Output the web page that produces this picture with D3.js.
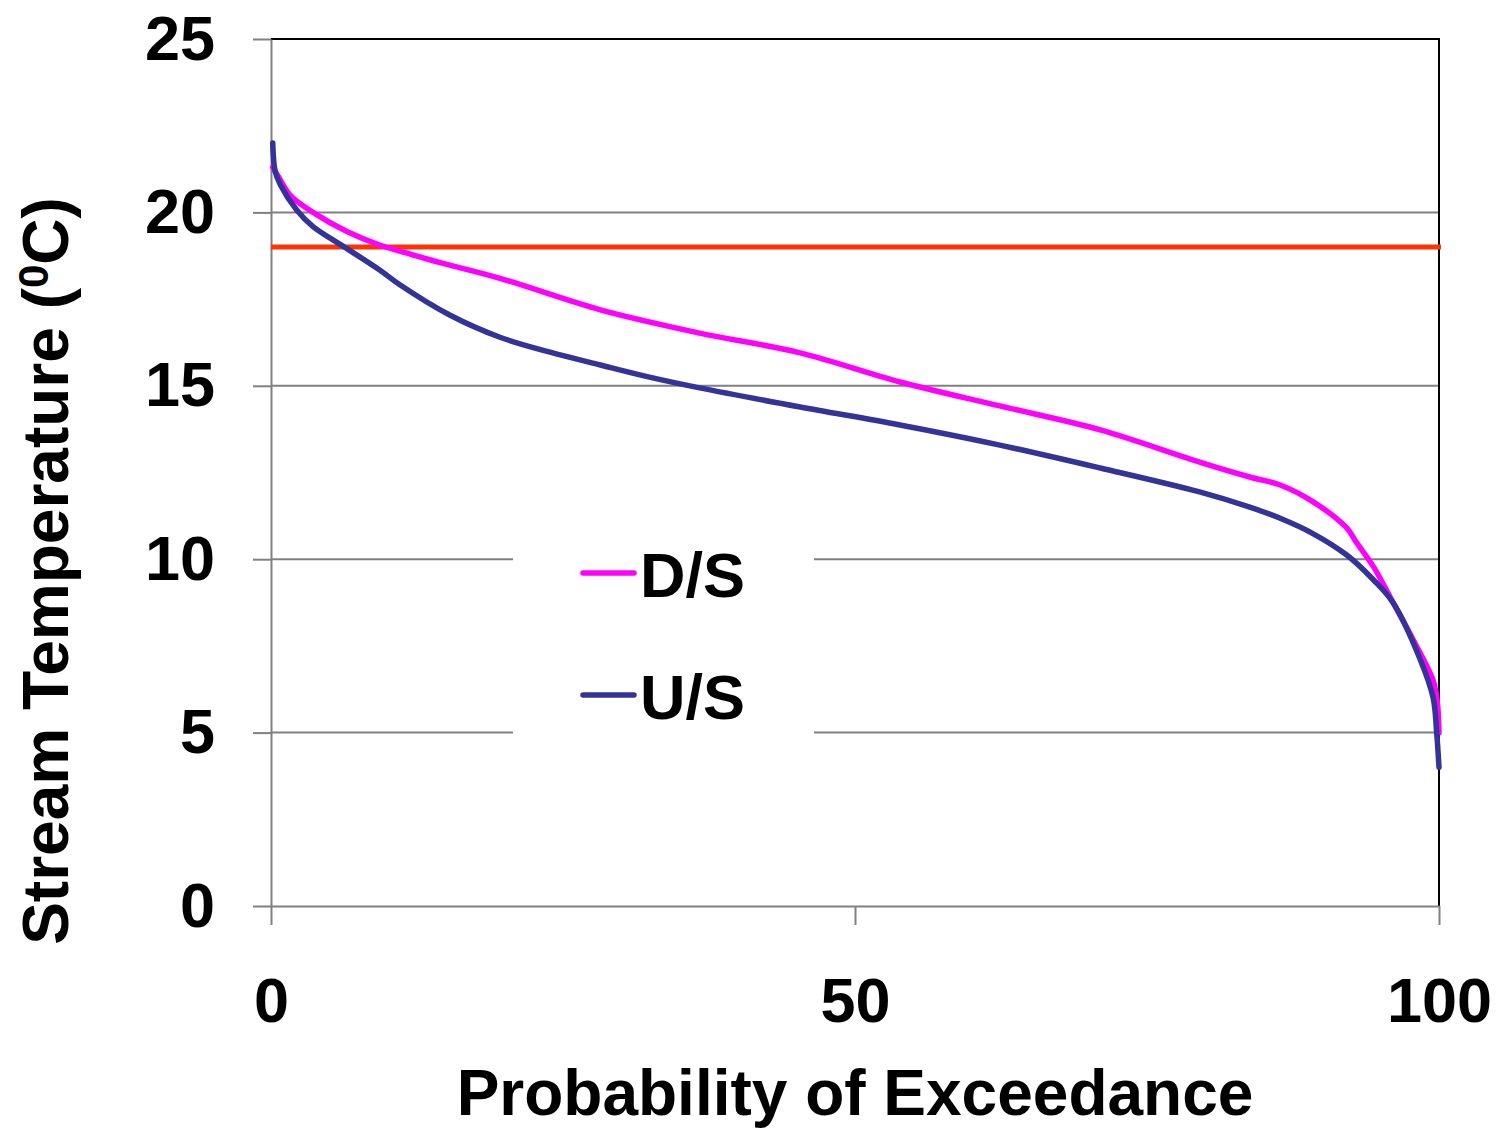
<!DOCTYPE html>
<html>
<head>
<meta charset="utf-8">
<script src="https://cdn.jsdelivr.net/npm/d3@7"></script>
<style>
  html, body { margin: 0; padding: 0; background: #fff; }
  svg { display: block; }
  text { font-family: "Liberation Sans", Arial, sans-serif; font-weight: bold; fill: #000; }
</style>
</head>
<body>
<script>
// ---- data ----
const dsProb = [0.15, 0.6, 1.63, 3.6, 6.5, 9.3, 12.2, 14.5, 19.6, 28.2, 36.7, 45.3, 53.85, 62.4, 71.0, 79.5, 83.8, 86.4, 89.2, 92.1, 92.9, 94.4, 96.1, 97.8, 99.5, 99.85, 100];
const dsTemp = [21.3, 21.05, 20.5, 20.0, 19.45, 19.06, 18.77, 18.55, 18.1, 17.19, 16.52, 15.95, 15.11, 14.42, 13.73, 12.8, 12.37, 12.14, 11.66, 10.9, 10.5, 9.78, 8.73, 7.67, 6.5, 5.9, 5.0];
const usProb = [0.15, 0.35, 0.8, 2.2, 3.6, 6.2, 9.3, 11.0, 15.3, 19.6, 23.9, 28.2, 32.4, 36.7, 45.3, 53.85, 62.4, 71.0, 79.5, 83.8, 86.4, 89.2, 92.1, 94.4, 96.1, 98.4, 99.5, 99.8, 100];
const usTemp = [22.0, 21.2, 20.8, 20.07, 19.59, 19.02, 18.34, 17.92, 17.04, 16.4, 15.97, 15.6, 15.25, 14.94, 14.39, 13.87, 13.29, 12.63, 11.94, 11.5, 11.18, 10.74, 10.12, 9.4, 8.73, 7.1, 6.0, 5.0, 4.0];
const standard = 19;
const xTicks = [0, 50, 100];
const yTicks = [0, 5, 10, 15, 20, 25];
const seriesNames = ["D/S", "U/S"];
const seriesColors = ["#FF00FF", "#333399"];

const W = 1498, H = 1128;
const svg = d3.select("body").append("svg").attr("width", W).attr("height", H);

const x = d3.scaleLinear().domain([0, 100]).range([271, 1439]);
const y = d3.scaleLinear().domain([0, 25]).range([906, 39]);

// gridlines
svg.append("g").selectAll("line").data(yTicks.filter(d => d > 0 && d < 25)).join("line")
  .attr("x1", x(0)).attr("x2", x(100))
  .attr("y1", d => y(d)).attr("y2", d => y(d))
  .attr("stroke", "#808080").attr("stroke-width", 2);

// top and right border
svg.append("path")
  .attr("d", `M${x(0)},${y(25)}H${x(100)}V${y(0)}`)
  .attr("fill", "none").attr("stroke", "#000").attr("stroke-width", 2);

// y axis
const yAxis = svg.append("g").attr("transform", `translate(${x(0)},0)`)
  .call(d3.axisLeft(y).tickValues(yTicks).tickSize(18).tickSizeOuter(0).tickPadding(38));
yAxis.select(".domain").attr("stroke", "#808080").attr("stroke-width", 2);
yAxis.selectAll(".tick line").attr("stroke", "#808080").attr("stroke-width", 2);
yAxis.selectAll(".tick text").attr("font-size", 63).attr("font-family", "Liberation Sans, Arial").attr("font-weight", "bold").attr("fill", "#000");

// x axis
const xAxis = svg.append("g").attr("transform", `translate(0,${y(0)})`)
  .call(d3.axisBottom(x).tickValues(xTicks).tickSize(19).tickSizeOuter(0).tickPadding(52));
xAxis.select(".domain").attr("stroke", "#808080").attr("stroke-width", 2);
xAxis.selectAll(".tick line").attr("stroke", "#808080").attr("stroke-width", 2);
xAxis.selectAll(".tick text").attr("font-size", 63).attr("font-family", "Liberation Sans, Arial").attr("font-weight", "bold").attr("fill", "#000");

// legend background (covers gridlines)
svg.append("rect").attr("x", 513).attr("y", 540).attr("width", 301).attr("height", 210).attr("fill", "#fff");

// standard line
svg.append("line")
  .attr("x1", x(0)).attr("x2", x(100) + 2)
  .attr("y1", y(standard)).attr("y2", y(standard))
  .attr("stroke", "#FF3300").attr("stroke-width", 5);

// series
const line = d3.line().x(d => x(d[0])).y(d => y(d[1])).curve(d3.curveCatmullRom.alpha(0.5));
const series = [d3.zip(dsProb, dsTemp), d3.zip(usProb, usTemp)];
series.forEach((s, i) => {
  svg.append("path").datum(s).attr("d", line)
    .attr("fill", "none").attr("stroke", seriesColors[i]).attr("stroke-width", 5.5)
    .attr("stroke-linejoin", "round").attr("stroke-linecap", "round");
});

// legend
const leg = svg.append("g");
seriesNames.forEach((n, i) => {
  const ly = 573 + i * 122;
  leg.append("line").attr("x1", 583).attr("x2", 634).attr("y1", ly).attr("y2", ly)
    .attr("stroke", seriesColors[i]).attr("stroke-width", 5.5).attr("stroke-linecap", "round");
  leg.append("text").attr("x", 640).attr("y", ly + 24).attr("font-size", 63).text(n);
});

// axis titles
svg.append("text").attr("x", 855).attr("y", 1115).attr("text-anchor", "middle")
  .attr("font-size", 64).text("Probability of Exceedance");

const yt = svg.append("text").attr("transform", "translate(68,571) rotate(-90)")
  .attr("text-anchor", "middle").attr("font-size", 64);
yt.append("tspan").text("Stream Temperature (");
yt.append("tspan").attr("font-size", 42).attr("dy", -20).text("0");
yt.append("tspan").attr("dy", 20).text("C)");
</script>
</body>
</html>
